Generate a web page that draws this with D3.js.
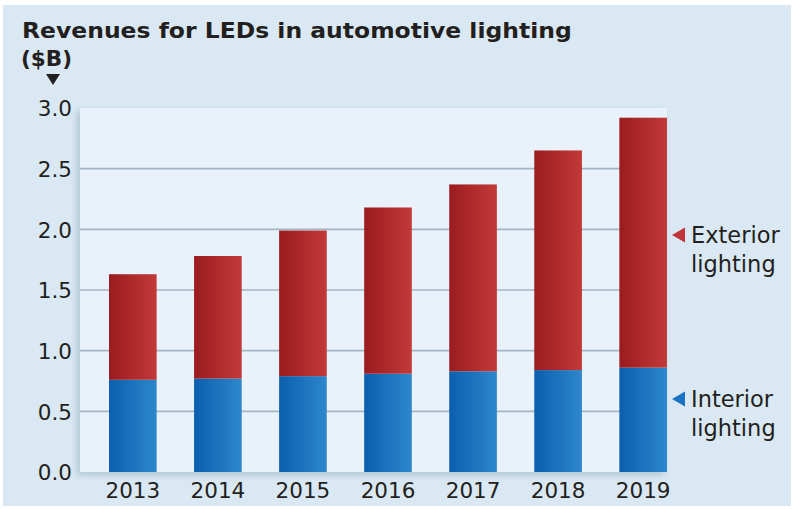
<!DOCTYPE html>
<html><head><meta charset="utf-8">
<script src="https://cdn.jsdelivr.net/npm/d3@7"></script>
<style>body{margin:0;background:#fff}svg{display:block}text{font-family:"DejaVu Sans",sans-serif;fill:#231f20}</style>
</head><body><svg id="c" width="794" height="509"></svg>
<script>
const years = ["2013","2014","2015","2016","2017","2018","2019"];
const interior = [0.76, 0.77, 0.79, 0.81, 0.83, 0.84, 0.86];
const total = [1.63, 1.78, 1.99, 2.18, 2.37, 2.65, 2.92];
const exterior = total.map((t,i)=>+(t-interior[i]).toFixed(2));
const yTicks = [0,0.5,1.0,1.5,2.0,2.5,3.0];

const svg = d3.select("#c");
const defs = svg.append("defs");
function grad(id,c1,c2){const g=defs.append("linearGradient").attr("id",id).attr("x1","0").attr("x2","1").attr("y1","0").attr("y2","0");g.append("stop").attr("offset","0").attr("stop-color",c1);g.append("stop").attr("offset","1").attr("stop-color",c2);}
grad("gRed","#9a1b1f","#c23a38");
grad("gBlue","#0b5fae","#2e87cc");
const f=defs.append("filter").attr("id","sh").attr("x","-10%").attr("y","-10%").attr("width","120%").attr("height","120%");
f.append("feDropShadow").attr("dx",-3).attr("dy",3).attr("stdDeviation",3).attr("flood-color","#7f9bb5").attr("flood-opacity",0.45);

svg.append("rect").attr("x",3).attr("y",5).attr("width",788).attr("height",501).attr("fill","#d9e8f2");

const x0=80,x1=667,yTop=108,yBot=472;
const y = d3.scaleLinear().domain([0,3]).range([yBot,yTop]);
const x = d3.scaleBand().domain(years).range([90.3,685.7]).paddingInner(0.44).paddingOuter(0.22);

svg.append("rect").attr("x",x0).attr("y",yTop).attr("width",x1-x0).attr("height",yBot-yTop).attr("fill","#e9f2fa").attr("filter","url(#sh)");

svg.append("g").selectAll("line").data(yTicks.filter(d=>d>0&&d<3)).join("line")
  .attr("x1",x0).attr("x2",x1).attr("y1",d=>y(d)).attr("y2",d=>y(d))
  .attr("stroke","#a3b5c4").attr("stroke-width",1.6);

const g=svg.append("g");
g.selectAll(".int").data(years).join("rect").attr("class","int")
  .attr("x",d=>x(d)).attr("width",x.bandwidth())
  .attr("y",(d,i)=>y(interior[i])).attr("height",(d,i)=>y(0)-y(interior[i]))
  .attr("fill","url(#gBlue)");
g.selectAll(".ext").data(years).join("rect").attr("class","ext")
  .attr("x",d=>x(d)).attr("width",x.bandwidth())
  .attr("y",(d,i)=>y(interior[i]+exterior[i])).attr("height",(d,i)=>y(interior[i])-y(interior[i]+exterior[i]))
  .attr("fill","url(#gRed)");

const ya = d3.axisLeft(y).tickValues(yTicks).tickFormat(d3.format(".1f")).tickSize(0).tickPadding(0);
const yg = svg.append("g").attr("transform","translate(72,0)").call(ya);
yg.select(".domain").remove();
yg.selectAll("text").attr("font-size",21.5).attr("font-family","DejaVu Sans").attr("fill","#231f20").attr("dy","0.36em");

const xa = d3.axisBottom(x).tickSize(0).tickPadding(0);
const xg = svg.append("g").attr("transform","translate(0,"+yBot+")").call(xa);
xg.select(".domain").remove();
xg.selectAll("text").attr("font-size",21.5).attr("font-family","DejaVu Sans").attr("fill","#231f20").attr("dy",null).attr("y",26);

const title = svg.append("text").attr("x",0).attr("y",0).attr("font-size",21.5).attr("font-weight","bold")
  .text("Revenues for LEDs in automotive lighting");
const tw = title.node().getComputedTextLength();
title.attr("transform",`translate(22,38) scale(${550/tw},1)`);
svg.append("text").attr("x",21).attr("y",66).attr("font-size",21.5).attr("font-weight","bold").text("($B)");
svg.append("path").attr("d","M46,74 L60,74 L53,85 Z").attr("fill","#231f20");

const legend=[{lab:["Exterior","lighting"],col:"#c0343a",ty:235},
              {lab:["Interior","lighting"],col:"#1a73c4",ty:399}];
legend.forEach(l=>{
  svg.append("path").attr("d",`M672,${l.ty} L685,${l.ty-7.5} L685,${l.ty+7.5} Z`).attr("fill",l.col);
  svg.append("text").attr("x",691).attr("y",l.ty+8).attr("font-size",22.5).text(l.lab[0]);
  svg.append("text").attr("x",691).attr("y",l.ty+36.5).attr("font-size",22.5).text(l.lab[1]);
});
</script></body></html>
